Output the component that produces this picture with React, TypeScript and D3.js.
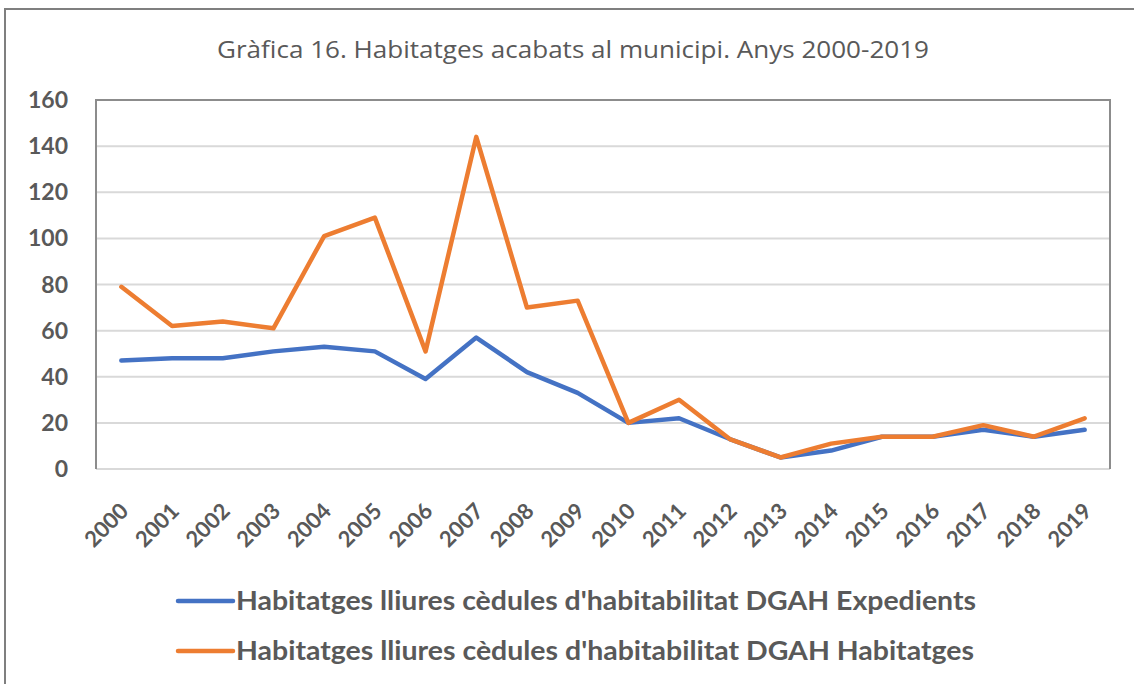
import React from "react";
import * as d3 from "d3";

const years = ["2000","2001","2002","2003","2004","2005","2006","2007","2008","2009","2010","2011","2012","2013","2014","2015","2016","2017","2018","2019"];
const expedients = [47, 48, 48, 51, 53, 51, 39, 57, 42, 33, 20, 22, 13, 5, 8, 14, 14, 17, 14, 17];
const habitatges = [79, 62, 64, 61, 101, 109, 51, 144, 70, 73, 20, 30, 13, 5, 11, 14, 14, 19, 14, 22];
const yTicks = [0, 20, 40, 60, 80, 100, 120, 140, 160];
const seriesNames = [
  "Habitatges lliures cèdules d'habitabilitat DGAH Expedients",
  "Habitatges lliures cèdules d'habitabilitat DGAH Habitatges",
];
const title = "Gràfica 16. Habitatges acabats al municipi. Anys 2000-2019";

const W = 1134, H = 684;
const plot = { left: 96, right: 1110, top: 100, bottom: 469 };
const colors = ["#4472C4", "#ED7D31"];
const textColor = "#595959";
const font = "Lato, 'Open Sans', sans-serif";

export default function App() {
  const x = d3.scaleBand().domain(years).range([plot.left, plot.right]);
  const y = d3.scaleLinear().domain([0, 160]).range([plot.bottom, plot.top]);
  const line = d3.line<number>()
    .x((_, i) => (x(years[i]) as number) + x.bandwidth() / 2)
    .y((d) => y(d));
  const series = [expedients, habitatges];

  return (
    <svg width={W} height={H} style={{ position: "absolute", left: 0, top: 0, background: "#fff" }}>
      <rect x={5} y={9} width={1140} height={700} fill="#fff" stroke="#7f7f7f" strokeWidth={2} />
      <text x={573} y={58} textAnchor="middle" fontFamily="'Open Sans', sans-serif" fontSize={24} fill={textColor}
        textLength={712} lengthAdjust="spacingAndGlyphs">
        {title}
      </text>
      {yTicks.map((t) => (
        <line key={t} x1={plot.left} x2={plot.right} y1={y(t)} y2={y(t)} stroke="#d9d9d9" strokeWidth={2} />
      ))}
      <path
        d={`M${plot.left},${plot.bottom} V${plot.top} H${plot.right} V${plot.bottom}`}
        fill="none"
        stroke="#8c8c8c"
        strokeWidth={2}
      />
      {yTicks.map((t) => (
        <text key={t} x={68} y={y(t)} dy="0.35em" textAnchor="end" fontFamily={font} fontWeight="bold" fontSize={23} fill={textColor}>
          {t}
        </text>
      ))}
      {years.map((yr) => {
        const cx = (x(yr) as number) + x.bandwidth() / 2 + 3;
        const cy = plot.bottom + 38;
        return (
          <text key={yr} transform={`translate(${cx},${cy}) rotate(-45)`} textAnchor="end" dy="0.35em" fontFamily={font} fontWeight="bold" fontSize={22} fill={textColor}>
            {yr}
          </text>
        );
      })}
      {series.map((s, i) => (
        <path key={i} d={line(s) as string} fill="none" stroke={colors[i]} strokeWidth={4.5} strokeLinejoin="round" strokeLinecap="round" />
      ))}
      {seriesNames.map((n, i) => {
        const ly = 601 + i * 50;
        return (
          <g key={n}>
            <line x1={178} x2={233} y1={ly} y2={ly} stroke={colors[i]} strokeWidth={4.5} strokeLinecap="round" />
            <text x={236} y={ly} dy="0.35em" fontFamily={font} fontWeight="bold" fontSize={26} fill={textColor}
              textLength={i === 0 ? 740 : 738} lengthAdjust="spacingAndGlyphs">
              {n}
            </text>
          </g>
        );
      })}
    </svg>
  );
}
